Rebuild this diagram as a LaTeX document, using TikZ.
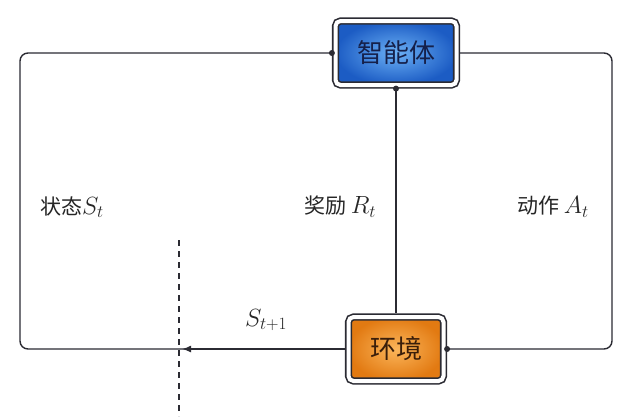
\documentclass[tikz,border=0pt]{standalone}
\usepackage{fontspec}
\newfontfamily\cjk{Noto Sans CJK SC}
\usetikzlibrary{arrows.meta,shadings}
\definecolor{lin}{HTML}{2B2B33}
\definecolor{bluein}{HTML}{6BB0F5}
\definecolor{blueout}{HTML}{1C5CC4}
\definecolor{orin}{HTML}{FBB55A}
\definecolor{orout}{HTML}{E27A12}
\definecolor{navy}{HTML}{15204A}
\definecolor{brownt}{HTML}{3A1E0A}
\newcommand{\labmath}[1]{{\fontsize{24}{28}\selectfont$#1$}}
\tikzset{
  box/.style={rounded corners=5pt, draw=lin, line width=1.6pt, double=white,
    double distance=4pt, outer sep=3.6pt, minimum height=64pt, inner sep=0pt},
  conn/.style={draw=lin, line width=1.4pt, rounded corners=8pt},
  dot/.style={circle, fill=lin, inner sep=0pt, minimum size=6pt},
  lab/.style={font=\fontsize{21}{25}\selectfont, text=black!85, inner sep=0pt}
}
\begin{document}
\begin{tikzpicture}[x=1pt,y=-1pt]
\path[fill=white] (0,0) rectangle (636,416);
\useasboundingbox (0,0) rectangle (636,416);
\node[box, minimum width=121pt, inner color=bluein, outer color=blueout,
  text=navy, font=\cjk\fontsize{26}{30}\selectfont] (agent) at (396,53) {智能体};
\node[box, minimum width=95pt, inner color=orin, outer color=orout,
  text=brownt, font=\cjk\fontsize{26}{30}\selectfont] (env) at (396,349) {环境};
\coordinate (tl) at (20,53);
\coordinate (bl) at (20,349);
\coordinate (tr) at (612,53);
\coordinate (br) at (612,349);
\coordinate (arr) at (182,349);
% left loop: environment -> agent (state)
\draw[conn] (env.west) -- (bl) -- (tl) -- (agent.west);
\draw[draw=lin, line width=1.4pt, -{Latex[length=9pt,width=7pt]}] (env.west) -- (arr);
% right loop: agent -> environment (action)
\draw[conn] (agent.east) -- (tr) -- (br) -- (env.east);
% reward
\draw[conn] (agent.south) -- (env.north);
\node[dot] (d1) at (agent.west) {};
\node[dot] (d2) at (agent.south) {};
\node[dot] (d3) at (env.east) {};
% dashed divider
\coordinate (dtop) at (179,240);
\coordinate (dbot) at (179,416);
\draw[draw=lin, line width=1.2pt, dash pattern=on 6pt off 5pt] (dtop) -- (dbot);
% labels
\node[lab] (ls) at (72,207) {\cjk 状态\labmath{S_t}};
\node[lab] (lr) at (340,207) {\cjk 奖励 \labmath{R_t}};
\node[lab] (la) at (553,207) {\cjk 动作 \labmath{A_t}};
\node[lab] (ls1) at (266,320) {{\fontsize{25}{29}\selectfont$S_{t+1}$}};
\end{tikzpicture}
\end{document}
